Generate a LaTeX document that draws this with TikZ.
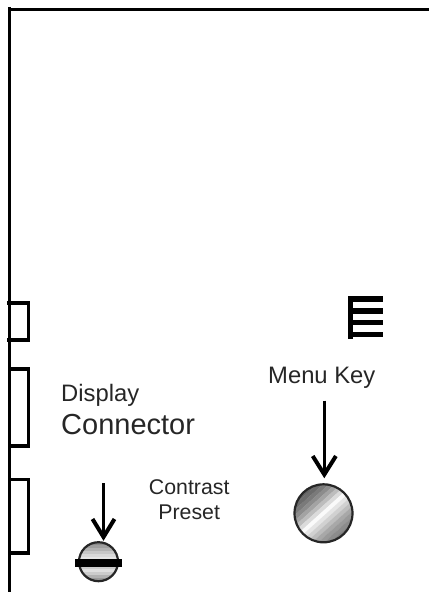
\documentclass[tikz,border=0pt]{standalone}
\usepackage{fontspec}
\setmainfont{Liberation Sans}
\newcommand{\fsz}[1]{\fontsize{#1}{#1}\selectfont}
\tikzset{
  x=1pt,y=-1pt,
  wall/.style={line width=3.2pt,line cap=butt},
  shaft/.style={line width=3pt},
  vee/.style={line width=4pt,line join=miter},
  lbl/.style={inner sep=0pt,anchor=base west,text=black!85},
  rim/.style={line width=2.2pt,draw=black!85},
}
\begin{document}
\begin{tikzpicture}
\useasboundingbox (0,0) rectangle (429,593);
% housing
\draw[wall] (9.5,7) -- (9.5,592);
\draw[wall] (8,9.5) -- (429,9.5);
\draw[wall] (7,303) -- (30,303);
\draw[wall] (7,340) -- (30,340);
\draw[wall] (28.5,303) -- (28.5,340);
\draw[wall] (9,369) -- (30,369);
\draw[wall] (9,446) -- (30,446);
\draw[wall] (28.5,369) -- (28.5,446);
\draw[wall] (9,479.5) -- (30,479.5);
\draw[wall] (9,553) -- (30,553);
\draw[wall] (28.5,479.5) -- (28.5,553);
% menu key symbol
\fill (347.5,296) rectangle (352.8,338.5);
\fill (347.5,296) rectangle (382.7,301.5);
\fill (347.5,308.3) rectangle (382.7,313.5);
\fill (347.5,320) rectangle (382.7,325);
\fill (347.5,331.7) rectangle (382.7,336.7);
% labels
\node[lbl,font=\fsz{23.8}] (display) at (61,401.5) {Display};
\node[lbl,font=\fsz{29}] (connector) at (61,434) {Connector};
\node[lbl,font=\fsz{23.8}] (menukey) at (268,383) {Menu Key};
\node[lbl,font=\fsz{21.3},anchor=base] (contrast) at (189.2,494) {Contrast};
\node[lbl,font=\fsz{21.3},anchor=base] (preset) at (189.2,519.3) {Preset};
% menu key button
\coordinate (mk) at (323.5,513.3);
\begin{scope}
  \clip (mk) circle (29);
  \begin{scope}[shift={(mk)},rotate=42]
    \foreach \i/\g in {-32/35,-28/38,-24/42,-20/48,-16/55,-12/64,-8/74,-4/86,0/98,4/90,8/82,12/74,16/66,20/60,24/55,28/50}{
      \fill[black!\the\numexpr100-\g\relax] (-40,\i-2) rectangle (40,\i+2.2);
    }
  \end{scope}
\end{scope}
\node[circle,rim,minimum size=58pt,inner sep=0pt] (menubtn) at (mk) {};
% contrast button
\coordinate (cp) at (98.5,561.7);
\begin{scope}
  \clip (cp) circle (20);
  \foreach \i/\g in {0/55,3/62,6/70,9/78,12/85,15/90,18/80,21/72,24/80,27/88,30/80,33/70,36/60}{
    \fill[black!\the\numexpr100-\g\relax] (70,541.7+\i) rectangle (125,541.7+\i+3.2);
  }
\end{scope}
\node[circle,rim,minimum size=39pt,inner sep=0pt] (contrastbtn) at (cp) {};
\node[fill=black,minimum width=47pt,minimum height=8pt,inner sep=0pt] (bar) at (98.5,563) {};
% pointers
\coordinate (a1) at (324.3,400.5);
\coordinate (a2) at (103.5,483);
\coordinate (t1) at (324.3,474.5);
\coordinate (t2) at (103.5,537);
\draw[shaft] (a1) -- (t1);
\draw[vee] (312.7,456) -- (t1) -- (335.9,456);
\draw[shaft] (a2) -- (t2);
\draw[vee] (92.5,519) -- (t2) -- (114.5,519);
\end{tikzpicture}
\end{document}
